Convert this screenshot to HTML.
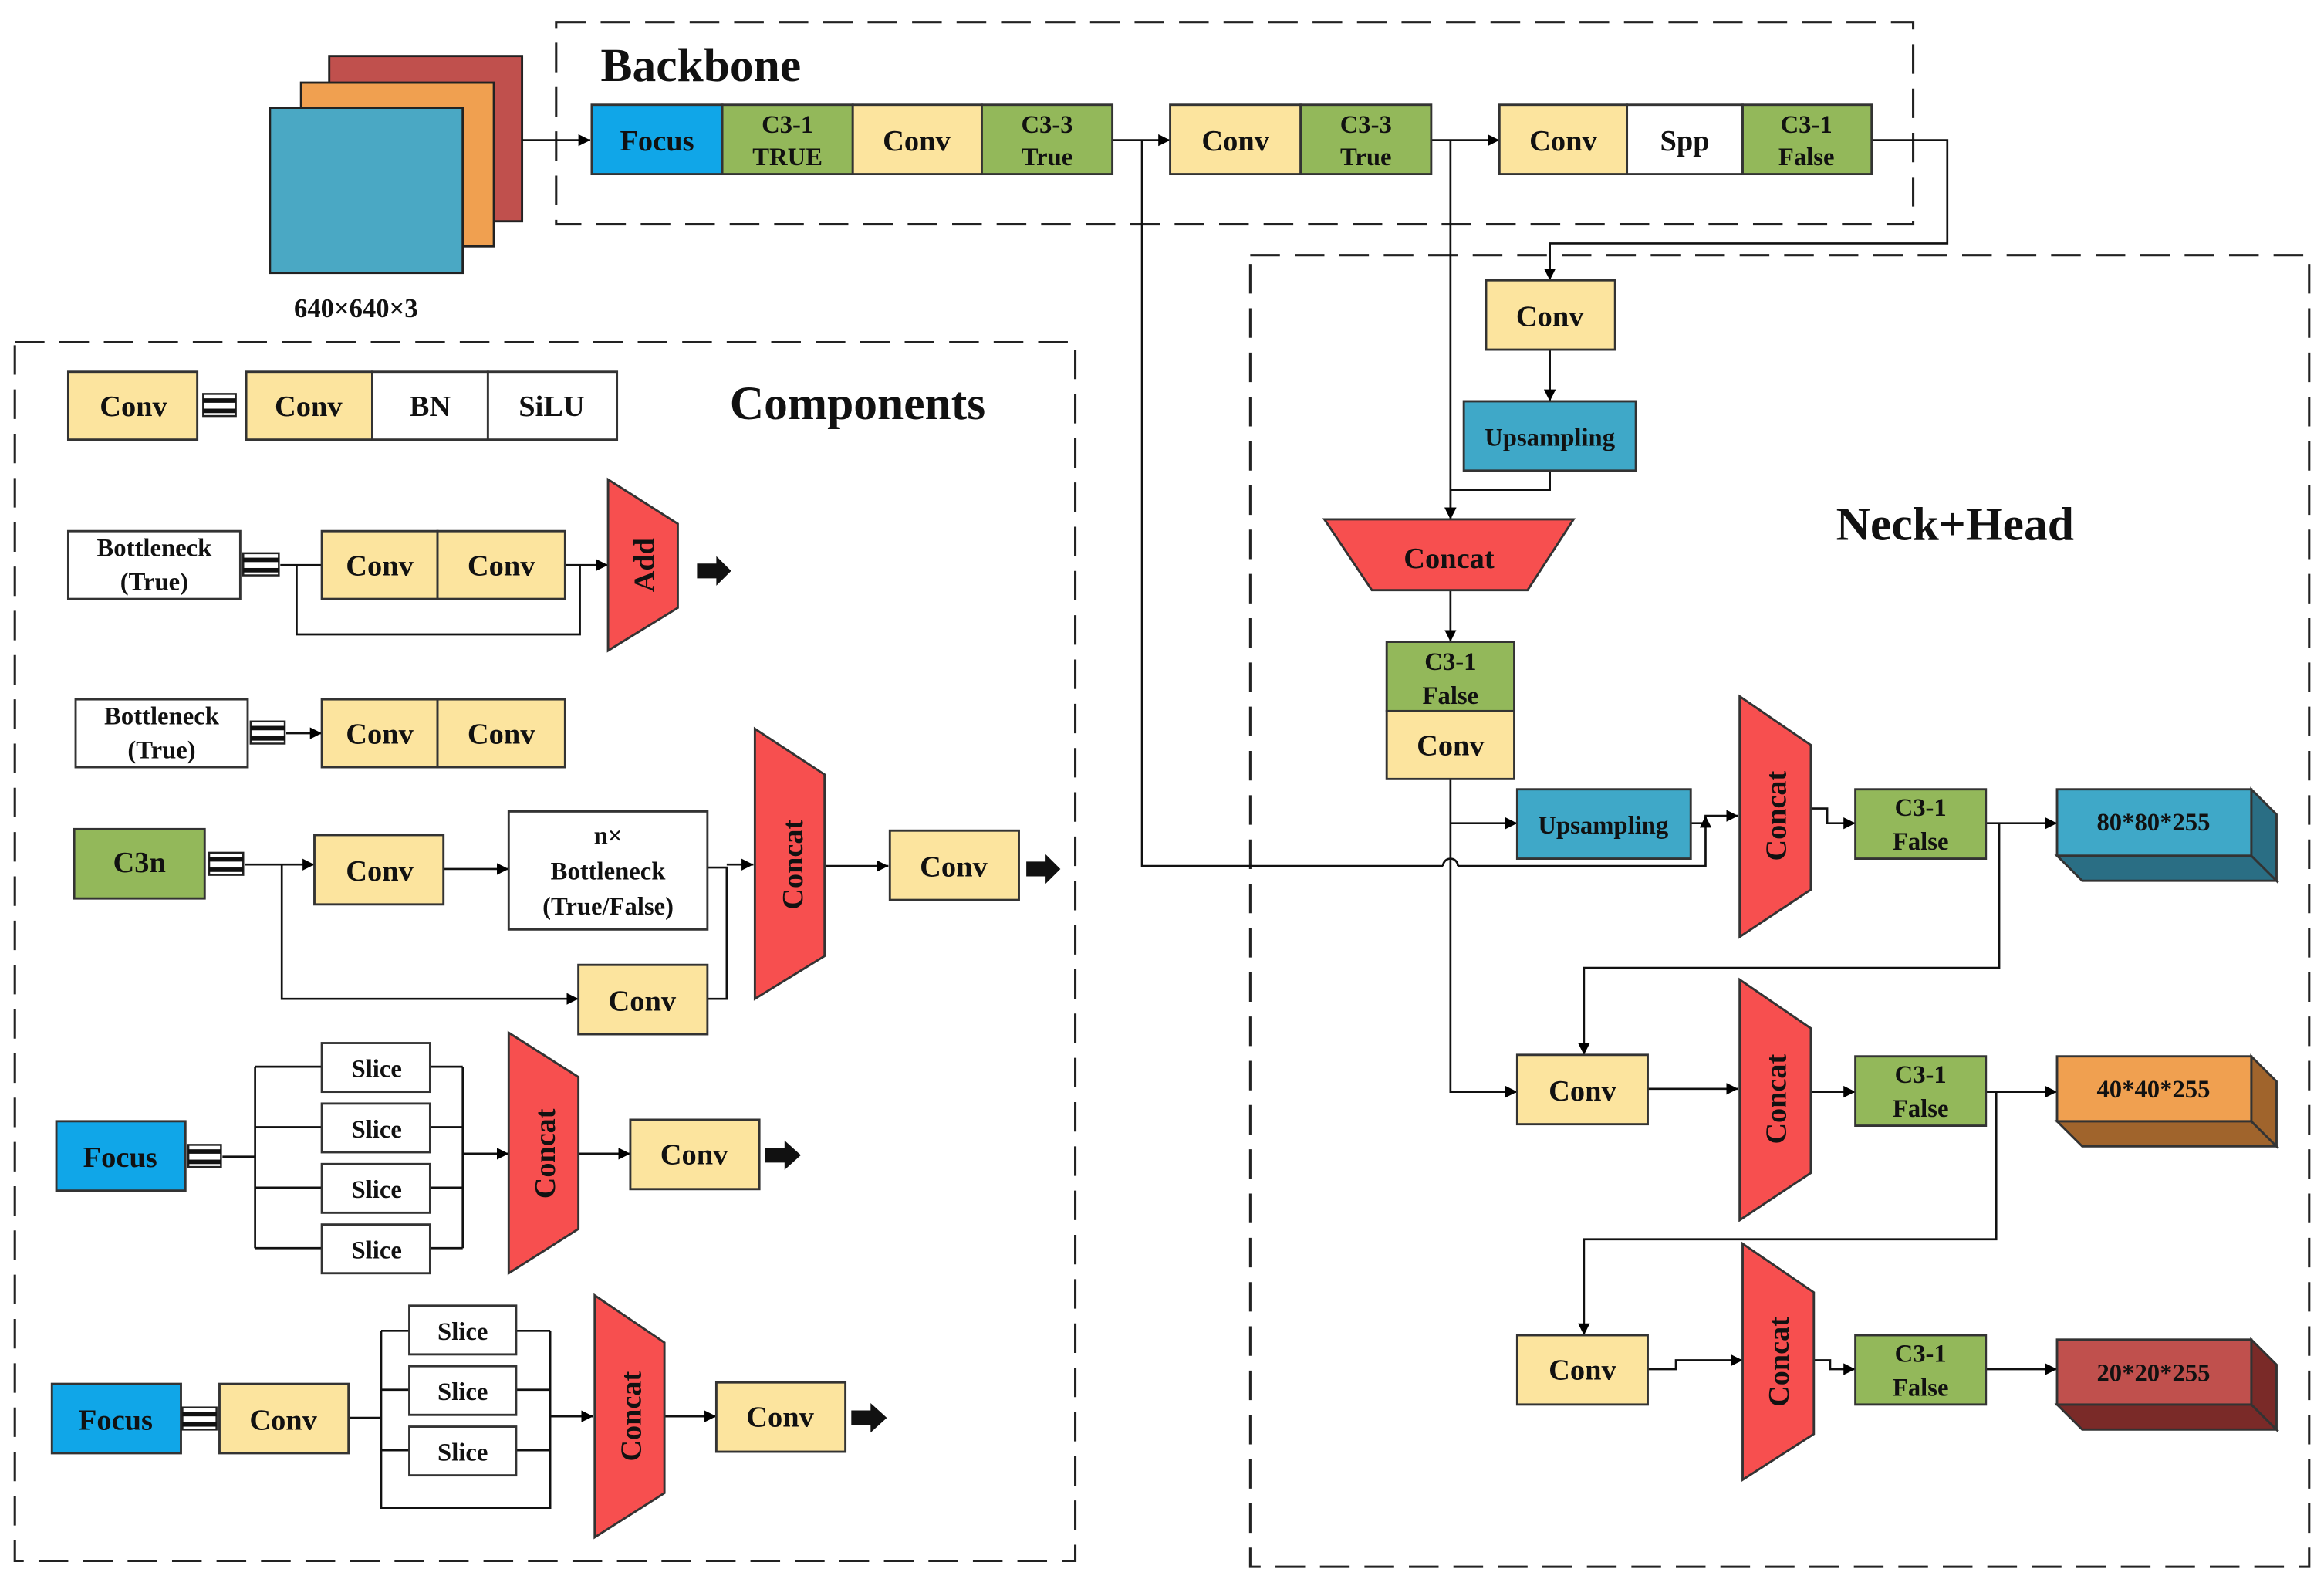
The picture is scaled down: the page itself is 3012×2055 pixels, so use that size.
<!DOCTYPE html>
<html><head><meta charset="utf-8"><style>
html,body{margin:0;padding:0;background:#fff;width:3012px;height:2055px;overflow:hidden}
svg{display:block}
text{font-family:"Liberation Serif",serif;font-weight:bold;fill:#111}
</style></head><body>
<svg width="3012" height="2055" viewBox="0 0 1567 1075" preserveAspectRatio="none" xmlns="http://www.w3.org/2000/svg">
<defs>
<marker id="a" viewBox="0 0 10 10" refX="10" refY="5" markerWidth="8" markerHeight="8" orient="auto" markerUnits="userSpaceOnUse"><path d="M0,0L10,5L0,10z" fill="#000"/></marker>
</defs>
<rect width="1567" height="1075" fill="#fff"/>
<g fill="none" stroke="#222" stroke-width="1.6" stroke-dasharray="20,10">
<rect x="375" y="15" width="915" height="137"/>
<rect x="843" y="173" width="714" height="889"/>
<rect x="10" y="232" width="715" height="826"/>
</g>
<text x="405" y="55" font-size="32">Backbone</text>
<text x="1238" y="366" font-size="32">Neck+Head</text>
<text x="492" y="284" font-size="32">Components</text>
<g stroke="#222" stroke-width="1.5">
<rect x="222" y="38" width="130" height="112" fill="#c0504d"/>
<rect x="203" y="56" width="130" height="111" fill="#f0a050"/>
<rect x="182" y="73" width="130" height="112" fill="#4aa8c4"/>
</g>
<text x="240" y="215" font-size="18" text-anchor="middle">640×640×3</text>
<g stroke="#111" stroke-width="1.4" fill="none" marker-end="url(#a)">
<path d="M352,95H398"/>
<path d="M750,95H789"/>
<path d="M965,95H1011"/>
<path d="M1262,95H1313V165H1045V190"/>
<path d="M770,95V587H973M983,587H1150V553H1172"/>
<path d="M1045,237V272"/>
<path d="M1045,319V332H978V352"/>
<path d="M978,95V352"/>
<path d="M978,400V435"/>
<path d="M978,528V740H1023"/>
<path d="M978,558H1023"/>
<path d="M1140,558H1150V553"/>
<path d="M1221,548H1232V558H1251"/>
<path d="M1339,558H1387"/>
<path d="M1348,558V656H1068V715"/>
<path d="M1111,738H1172"/>
<path d="M1221,740H1251"/>
<path d="M1339,740H1387"/>
<path d="M1346,740V840H1068V905"/>
<path d="M1111,928H1130V922H1175"/>
<path d="M1223,922H1234V928H1251"/>
<path d="M1339,928H1387"/>
</g>
<path d="M973,587a5,5 0 0 1 10,0" stroke="#111" stroke-width="1.4" fill="none"/>
<g stroke="#333" stroke-width="1.5">
<rect x="399" y="71" width="88" height="47" fill="#10a6e8"/>
<rect x="487" y="71" width="88" height="47" fill="#93b85a"/>
<rect x="575" y="71" width="87" height="47" fill="#fce49e"/>
<rect x="662" y="71" width="88" height="47" fill="#93b85a"/>
<rect x="789" y="71" width="88" height="47" fill="#fce49e"/>
<rect x="877" y="71" width="88" height="47" fill="#93b85a"/>
<rect x="1011" y="71" width="86" height="47" fill="#fce49e"/>
<rect x="1097" y="71" width="78" height="47" fill="#fff"/>
<rect x="1175" y="71" width="87" height="47" fill="#93b85a"/>
<rect x="1002" y="190" width="87" height="47" fill="#fce49e"/>
<rect x="987" y="272" width="116" height="47" fill="#3fa8c8"/>
<polygon points="893,352 1061,352 1030,400 925,400" fill="#f74f4f"/>
<rect x="935" y="435" width="86" height="47" fill="#93b85a"/>
<rect x="935" y="482" width="86" height="46" fill="#fce49e"/>
<rect x="1023" y="535" width="117" height="47" fill="#3fa8c8"/>
<polygon points="1173,472 1221,505 1221,603 1173,635" fill="#f74f4f"/>
<rect x="1251" y="535" width="88" height="47" fill="#93b85a"/>
<rect x="1023" y="715" width="88" height="47" fill="#fce49e"/>
<polygon points="1173,664 1221,697 1221,795 1173,827" fill="#f74f4f"/>
<rect x="1251" y="716" width="88" height="47" fill="#93b85a"/>
<rect x="1023" y="905" width="88" height="47" fill="#fce49e"/>
<polygon points="1175,843 1223,876 1223,972 1175,1003" fill="#f74f4f"/>
<rect x="1251" y="905" width="88" height="47" fill="#93b85a"/>
<polygon points="1387,580 1518,580 1535,597 1404,597" fill="#2a6e84"/>
<polygon points="1518,535 1535,552 1535,597 1518,580" fill="#2a6e84"/>
<rect x="1387" y="535" width="131" height="45" fill="#3fa8c8"/>
<polygon points="1387,760 1518,760 1535,777 1404,777" fill="#a0642c"/>
<polygon points="1518,716 1535,733 1535,777 1518,760" fill="#a0642c"/>
<rect x="1387" y="716" width="131" height="44" fill="#f0a050"/>
<polygon points="1387,952 1518,952 1535,969 1404,969" fill="#7a2a28"/>
<polygon points="1518,908 1535,925 1535,969 1518,952" fill="#7a2a28"/>
<rect x="1387" y="908" width="131" height="44" fill="#c0504d"/>
</g>
<g font-size="20" text-anchor="middle">
<text x="443" y="102">Focus</text>
<text x="618" y="102">Conv</text>
<text x="833" y="102">Conv</text>
<text x="1054" y="102">Conv</text>
<text x="1136" y="102">Spp</text>
<text x="1045" y="221">Conv</text>
<text x="977" y="385">Concat</text>
<text x="978" y="512">Conv</text>
<text x="1067" y="746">Conv</text>
<text x="1067" y="935">Conv</text>
</g>
<g font-size="17" text-anchor="middle">
<text x="531" y="90">C3-1</text><text x="531" y="112">TRUE</text>
<text x="706" y="90">C3-3</text><text x="706" y="112">True</text>
<text x="921" y="90">C3-3</text><text x="921" y="112">True</text>
<text x="1218" y="90">C3-1</text><text x="1218" y="112">False</text>
<text x="978" y="454">C3-1</text><text x="978" y="477">False</text>
<text x="1295" y="553">C3-1</text><text x="1295" y="576">False</text>
<text x="1295" y="734">C3-1</text><text x="1295" y="757">False</text>
<text x="1295" y="923">C3-1</text><text x="1295" y="946">False</text>
<text x="1045" y="302">Upsampling</text>
<text x="1081" y="565">Upsampling</text>
<text x="1452" y="563">80*80*255</text>
<text x="1452" y="744">40*40*255</text>
<text x="1452" y="936">20*20*255</text>
</g>
<g stroke="#111" stroke-width="1.4" fill="none">
<path d="M189,383H217"/>
<path d="M200,383V430H391V383"/>
<path d="M381,383H410" marker-end="url(#a)"/>
<path d="M193,497H217" marker-end="url(#a)"/>
<path d="M165,586H212" marker-end="url(#a)"/>
<path d="M190,586V677H390" marker-end="url(#a)"/>
<path d="M299,589H343" marker-end="url(#a)"/>
<path d="M477,588H490V677H477"/>
<path d="M490,586H508" marker-end="url(#a)"/>
<path d="M556,587H599" marker-end="url(#a)"/>
<path d="M150,784H172M172,723V846M172,723H217M172,764H217M172,805H217M172,846H217"/>
<path d="M290,723H312M290,764H312M290,805H312M290,846H312M312,723V846"/>
<path d="M312,782H343" marker-end="url(#a)"/>
<path d="M390,782H425" marker-end="url(#a)"/>
<path d="M235,961H257M257,902V1022H371V902M257,902H276M257,942H276M257,983H276M348,902H371M348,942H371M348,983H371"/>
<path d="M371,960H400" marker-end="url(#a)"/>
<path d="M448,960H483" marker-end="url(#a)"/>
</g>
<g stroke="#333" stroke-width="1.5">
<rect x="46" y="252" width="87" height="46" fill="#fce49e"/>
<rect x="166" y="252" width="85" height="46" fill="#fce49e"/>
<rect x="251" y="252" width="78" height="46" fill="#fff"/>
<rect x="329" y="252" width="87" height="46" fill="#fff"/>
<rect x="46" y="360" width="116" height="46" fill="#fff"/>
<rect x="217" y="360" width="78" height="46" fill="#fce49e"/>
<rect x="295" y="360" width="86" height="46" fill="#fce49e"/>
<polygon points="410,325 457,355 457,412 410,441" fill="#f74f4f"/>
<rect x="51" y="474" width="116" height="46" fill="#fff"/>
<rect x="217" y="474" width="78" height="46" fill="#fce49e"/>
<rect x="295" y="474" width="86" height="46" fill="#fce49e"/>
<rect x="50" y="562" width="88" height="47" fill="#93b85a"/>
<rect x="212" y="566" width="87" height="47" fill="#fce49e"/>
<rect x="343" y="550" width="134" height="80" fill="#fff"/>
<rect x="390" y="654" width="87" height="47" fill="#fce49e"/>
<polygon points="509,494 556,525 556,648 509,677" fill="#f74f4f"/>
<rect x="600" y="563" width="87" height="47" fill="#fce49e"/>
<rect x="38" y="760" width="87" height="47" fill="#10a6e8"/>
<rect x="217" y="707" width="73" height="33" fill="#fff"/>
<rect x="217" y="748" width="73" height="33" fill="#fff"/>
<rect x="217" y="789" width="73" height="33" fill="#fff"/>
<rect x="217" y="830" width="73" height="33" fill="#fff"/>
<polygon points="343,700 390,730 390,833 343,863" fill="#f74f4f"/>
<rect x="425" y="759" width="87" height="47" fill="#fce49e"/>
<rect x="35" y="938" width="87" height="47" fill="#10a6e8"/>
<rect x="148" y="938" width="87" height="47" fill="#fce49e"/>
<rect x="276" y="885" width="72" height="33" fill="#fff"/>
<rect x="276" y="926" width="72" height="33" fill="#fff"/>
<rect x="276" y="967" width="72" height="33" fill="#fff"/>
<polygon points="401,878 448,910 448,1012 401,1042" fill="#f74f4f"/>
<rect x="483" y="937" width="87" height="47" fill="#fce49e"/>
</g>
<g font-size="20" text-anchor="middle" style="fill:#3a0808">
<text transform="translate(1204,553) rotate(-90)">Concat</text>
<text transform="translate(1204,745) rotate(-90)">Concat</text>
<text transform="translate(1206,923) rotate(-90)">Concat</text>
<text transform="translate(541,586) rotate(-90)">Concat</text>
<text transform="translate(374,782) rotate(-90)">Concat</text>
<text transform="translate(432,960) rotate(-90)">Concat</text>
<text transform="translate(441,383) rotate(-90)">Add</text>
</g>
<g stroke="#222" stroke-width="1.3" fill="#fff">
<rect x="137" y="267" width="22" height="15"/><rect x="164" y="375" width="24" height="15"/>
<rect x="169" y="489" width="23" height="15"/><rect x="141" y="578" width="23" height="15"/>
<rect x="127" y="776" width="22" height="15"/><rect x="123" y="954" width="23" height="15"/>
</g>
<g fill="#111">
<rect x="137" y="270" width="22" height="3"/><rect x="137" y="277" width="22" height="3"/>
<rect x="164" y="378" width="24" height="3"/><rect x="164" y="385" width="24" height="3"/>
<rect x="169" y="492" width="23" height="3"/><rect x="169" y="499" width="23" height="3"/>
<rect x="141" y="581" width="23" height="3"/><rect x="141" y="588" width="23" height="3"/>
<rect x="127" y="779" width="22" height="3"/><rect x="127" y="786" width="22" height="3"/>
<rect x="123" y="957" width="23" height="3"/><rect x="123" y="964" width="23" height="3"/>
<polygon points="470,382 483,382 483,377 493,387 483,397 483,392 470,392"/>
<polygon points="692,584 705,584 705,579 715,589 705,599 705,594 692,594"/>
<polygon points="516,778 529,778 529,773 540,783 529,793 529,788 516,788"/>
<polygon points="574,956 587,956 587,951 598,961 587,971 587,966 574,966"/>
</g>
<g font-size="20" text-anchor="middle">
<text x="90" y="282">Conv</text><text x="208" y="282">Conv</text>
<text x="290" y="282">BN</text><text x="372" y="282">SiLU</text>
<text x="256" y="390">Conv</text><text x="338" y="390">Conv</text>
<text x="256" y="504">Conv</text><text x="338" y="504">Conv</text>
<text x="94" y="591">C3n</text>
<text x="256" y="597">Conv</text>
<text x="433" y="685">Conv</text>
<text x="643" y="594">Conv</text>
<text x="81" y="791">Focus</text>
<text x="468" y="789">Conv</text>
<text x="78" y="969">Focus</text>
<text x="191" y="969">Conv</text>
<text x="526" y="967">Conv</text>
</g>
<g font-size="17" text-anchor="middle">
<text x="104" y="377">Bottleneck</text><text x="104" y="400">(True)</text>
<text x="109" y="491">Bottleneck</text><text x="109" y="514">(True)</text>
<text x="410" y="572">n×</text><text x="410" y="596">Bottleneck</text><text x="410" y="620">(True/False)</text>
<text x="254" y="730">Slice</text><text x="254" y="771">Slice</text>
<text x="254" y="812">Slice</text><text x="254" y="853">Slice</text>
<text x="312" y="908">Slice</text><text x="312" y="949">Slice</text><text x="312" y="990">Slice</text>
</g>
</svg>
</body></html>
